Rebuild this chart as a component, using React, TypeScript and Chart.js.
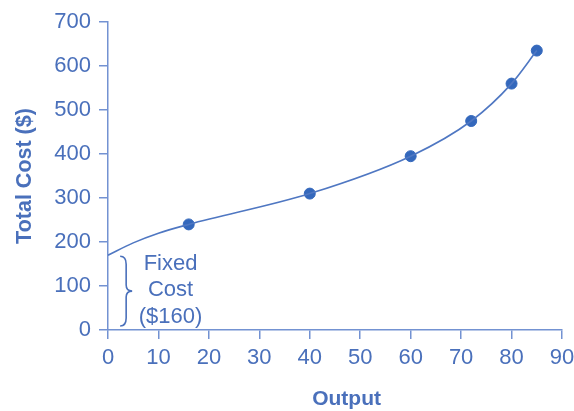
import React, { useEffect, useRef } from "react";
import { Chart, registerables } from "chart.js";

Chart.register(...registerables);

const outputPoints = [16, 40, 60, 72, 80, 85];
const costPoints = [240, 310, 395, 475, 560, 635];
const curveOutput = [0, 5, 10, 16, 40, 60, 72, 80, 85];
const curveCost = [170, 198, 220, 240, 310, 395, 475, 560, 635];
const xTicks = [0, 10, 20, 30, 40, 50, 60, 70, 80, 90];
const yTicks = [0, 100, 200, 300, 400, 500, 600, 700];
const fixedCostLines = ["Fixed", "Cost", "($160)"];
const xTitle = "Output";
const yTitle = "Total Cost ($)";

const TEXT = "#4a70bb";
const AXIS = "#7392d2";
const POINT = "#3468bc";
const LINE = "#4f77c2";
const FONT = "'Liberation Sans', Arial, sans-serif";

const bracePlugin = {
  id: "fixedCostBrace",
  afterDatasetsDraw(chart: any) {
    const { ctx, scales } = chart;
    const x = scales.x;
    const y = scales.y;
    const yTop = y.getPixelForValue(curveCost[0]) + 1;
    const yBot = y.getPixelForValue(0) - 4;
    const yMid = (yTop + yBot) / 2;
    const bx = x.getPixelForValue(3.6);
    const w = 6;
    ctx.save();
    ctx.strokeStyle = TEXT;
    ctx.lineWidth = 1.6;
    ctx.beginPath();
    ctx.moveTo(bx - w, yTop);
    ctx.quadraticCurveTo(bx, yTop, bx, yTop + 8);
    ctx.lineTo(bx, yMid - 6);
    ctx.quadraticCurveTo(bx, yMid, bx + w, yMid);
    ctx.quadraticCurveTo(bx, yMid, bx, yMid + 6);
    ctx.lineTo(bx, yBot - 8);
    ctx.quadraticCurveTo(bx, yBot, bx - w, yBot);
    ctx.stroke();

    ctx.fillStyle = TEXT;
    ctx.font = `22px ${FONT}`;
    ctx.textAlign = "center";
    ctx.textBaseline = "middle";
    const cx = x.getPixelForValue(12.4);
    const lineGap = 26.5;
    fixedCostLines.forEach((t, i) => {
      ctx.fillText(t, cx, yMid - 1 + (i - 1) * lineGap);
    });

    // x-axis title (slightly right of centre, as in the reference)
    ctx.font = `bold 21px ${FONT}`;
    ctx.fillText(xTitle, x.getPixelForValue(47.3), chart.height - 12);
    ctx.restore();
  },
};

export default function App() {
  const ref = useRef<HTMLCanvasElement>(null);
  useEffect(() => {
    document.body.style.margin = "0";
    const chart = new Chart(ref.current!, {
      type: "scatter",
      data: {
        datasets: [
          {
            data: curveOutput.map((v, i) => ({ x: v, y: curveCost[i] })),
            showLine: true,
            borderColor: LINE,
            borderWidth: 1.6,
            pointRadius: 0,
            cubicInterpolationMode: "monotone",
            fill: false,
          } as any,
          {
            data: outputPoints.map((v, i) => ({ x: v, y: costPoints[i] })),
            backgroundColor: POINT,
            borderColor: POINT,
            pointRadius: 5.5,
            showLine: false,
          },
        ],
      },
      options: {
        animation: false,
        responsive: false,
        maintainAspectRatio: false,
        layout: { padding: { top: 22, right: 12, left: 0, bottom: 0 } },
        plugins: { legend: { display: false }, tooltip: { enabled: false } },
        scales: {
          x: {
            type: "linear",
            min: 0,
            max: 90,
            afterFit(s: any) {
              s.height = 81;
              s.paddingRight = 0;
              s.paddingLeft = 0;
            },
            afterBuildTicks(s: any) {
              s.ticks = xTicks.map((v) => ({ value: v }));
            },
            grid: { drawOnChartArea: false, drawTicks: true, tickLength: 9, color: AXIS, lineWidth: 1.5 },
            border: { display: true, color: AXIS, width: 1.5 },
            ticks: { color: TEXT, font: { family: FONT, size: 22 }, padding: 6 },
            title: { display: false },
          },
          y: {
            type: "linear",
            min: 0,
            max: 700,
            afterFit(s: any) {
              s.width = 108;
            },
            afterBuildTicks(s: any) {
              s.ticks = yTicks.map((v) => ({ value: v }));
            },
            grid: { drawOnChartArea: false, drawTicks: true, tickLength: 9, color: AXIS, lineWidth: 1.5 },
            border: { display: true, color: AXIS, width: 1.5 },
            ticks: { color: TEXT, font: { family: FONT, size: 22 }, padding: 8 },
            title: {
              display: true,
              text: yTitle,
              color: TEXT,
              font: { family: FONT, size: 21.5, weight: "bold" },
              padding: { top: 12, bottom: 0 },
            },
          },
        },
      },
      plugins: [bracePlugin],
    });
    return () => chart.destroy();
  }, []);
  return (
    <div style={{ width: 574, height: 411 }}>
      <canvas ref={ref} width={574} height={411} style={{ display: "block" }} />
    </div>
  );
}
